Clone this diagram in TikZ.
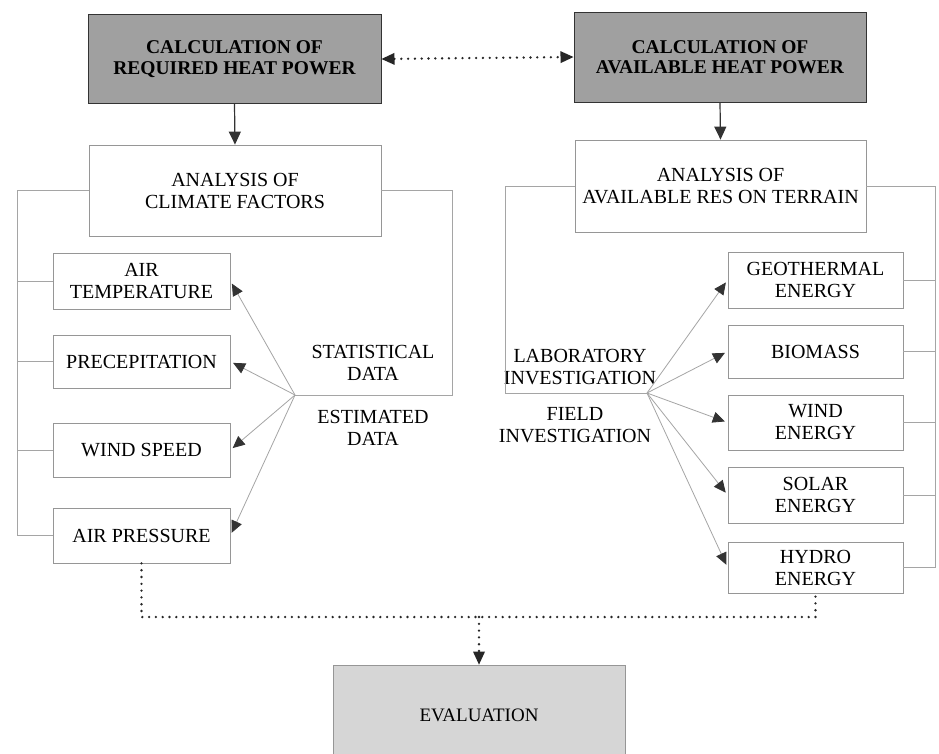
\documentclass[tikz,border=0pt]{standalone}
\usepackage{fontspec}
\setmainfont{Liberation Serif}
\usetikzlibrary{arrows.meta,calc}
\definecolor{calcgray}{RGB}{160,160,160}
\definecolor{evalgray}{RGB}{214,214,214}
\definecolor{boxline}{RGB}{150,150,150}
\definecolor{thinline}{RGB}{165,165,165}
\tikzset{
  calcbox/.style={draw=black!80, line width=1pt, fill=calcgray, align=center,
    font=\fontsize{19.5}{20.5}\selectfont\bfseries, inner sep=0pt},
  anabox/.style={draw=boxline, line width=0.8pt, fill=white, align=center,
    font=\fontsize{20}{22}\selectfont, inner sep=0pt},
  smallbox/.style={draw=boxline, line width=0.8pt, fill=white, align=center,
    font=\fontsize{20}{22}\selectfont, inner sep=0pt},
  evalbox/.style={draw=boxline, line width=0.8pt, fill=evalgray, align=center,
    font=\fontsize{19}{22}\selectfont, inner sep=0pt},
  lbl/.style={align=center, font=\fontsize{20}{22}\selectfont, inner sep=0pt},
  bracket/.style={draw=thinline, line width=0.8pt},
  solidarrow/.style={draw=black!80, line width=1.2pt, -{Triangle[length=13pt,width=12pt]}},
  hubarrow/.style={draw=thinline, line width=0.8pt, -{Triangle[length=12pt,width=11pt,color=black!80]}, shorten >=3pt},
  dotline/.style={draw=black!85, line width=2.6pt, line cap=round, dash pattern=on 0pt off 6.8pt},
  dotarrow/.style={dotline, -{Triangle[length=13pt,width=12pt,line width=0pt]}},
  dotdouble/.style={dotline, {Triangle[length=13pt,width=12pt,line width=0pt]}-{Triangle[length=13pt,width=12pt,line width=0pt]}}
}
\begin{document}
\begin{tikzpicture}[x=1pt,y=-1pt]
\clip (0,0) rectangle (939,753);
\fill[white] (0,0) rectangle (939,753);

% top boxes
\node[calcbox, minimum width=293pt, minimum height=89pt] (calcL) at (234.5,59) {CALCULATION OF\\REQUIRED HEAT POWER};
\node[calcbox, minimum width=292pt, minimum height=90pt] (calcR) at (720,57) {CALCULATION OF\\AVAILABLE HEAT POWER};
\draw[dotdouble] (calcL.east) -- (calcR.west);

% analysis boxes
\node[anabox, minimum width=292pt, minimum height=91pt] (anaL) at (235,190.5) {ANALYSIS OF\\CLIMATE FACTORS};
\node[anabox, minimum width=291pt, minimum height=92pt] (anaR) at (720.5,186) {ANALYSIS OF\\AVAILABLE RES ON TERRAIN};
\draw[solidarrow] (calcL.south) -- (anaL.north);
\draw[solidarrow] (calcR.south) -- (anaR.north);

% left small boxes
\node[smallbox, minimum width=177pt, minimum height=56pt] (airT) at (141.5,281) {AIR\\TEMPERATURE};
\node[smallbox, minimum width=177pt, minimum height=53pt] (prec) at (141.5,361.5) {PRECEPITATION};
\node[smallbox, minimum width=177pt, minimum height=54pt] (wind) at (141.5,450) {WIND SPEED};
\node[smallbox, minimum width=177pt, minimum height=55pt] (pres) at (141.5,535.5) {AIR PRESSURE};

% right energy boxes
\node[smallbox, minimum width=175pt, minimum height=56pt] (geo) at (815.5,280) {GEOTHERMAL\\ENERGY};
\node[smallbox, minimum width=175pt, minimum height=53pt] (bio) at (815.5,351.5) {BIOMASS};
\node[smallbox, minimum width=175pt, minimum height=55pt] (windE) at (815.5,422.5) {WIND\\ENERGY};
\node[smallbox, minimum width=175pt, minimum height=56pt] (solar) at (815.5,495) {SOLAR\\ENERGY};
\node[smallbox, minimum width=175pt, minimum height=51pt] (hydro) at (815.5,567.5) {HYDRO\\ENERGY};

% labels
\node[lbl] (stat) at (373,363) {STATISTICAL\\DATA};
\node[lbl] (est) at (373,428) {ESTIMATED\\DATA};
\node[lbl] (lab) at (580,367) {LABORATORY\\INVESTIGATION};
\node[lbl] (field) at (575,425) {FIELD\\INVESTIGATION};

% hubs and bracket coordinates
\coordinate (hubL) at (295,395);
\coordinate (hubR) at (647,393);
\coordinate (lbx) at (17,0);
\coordinate (rbx) at (452,0);
\coordinate (lrx) at (505,0);
\coordinate (rrx) at (935,0);

% left-side brackets
\draw[bracket] (anaL.west) -- (anaL.west -| lbx) -- (pres.west -| lbx) -- (pres.west);
\draw[bracket] (airT.west -| lbx) -- (airT.west);
\draw[bracket] (prec.west -| lbx) -- (prec.west);
\draw[bracket] (wind.west -| lbx) -- (wind.west);
\draw[bracket] (anaL.east) -- (anaL.east -| rbx) -- (hubL -| rbx) -- (hubL);

% right-side brackets
\draw[bracket] (anaR.west) -- (anaR.west -| lrx) -- (hubR -| lrx) -- (hubR);
\draw[bracket] (anaR.east) -- (anaR.east -| rrx) -- (hydro.east -| rrx) -- (hydro.east);
\draw[bracket] (geo.east) -- (geo.east -| rrx);
\draw[bracket] (bio.east) -- (bio.east -| rrx);
\draw[bracket] (windE.east) -- (windE.east -| rrx);
\draw[bracket] (solar.east) -- (solar.east -| rrx);

% hub arrows
\draw[hubarrow] (hubL) -- (airT.east);
\draw[hubarrow] (hubL) -- (prec.east);
\draw[hubarrow] (hubL) -- (wind.east);
\draw[hubarrow] (hubL) -- (pres.east);
\draw[hubarrow] (hubR) -- (geo.west);
\draw[hubarrow] (hubR) -- (bio.west);
\draw[hubarrow] (hubR) -- (windE.west);
\draw[hubarrow] (hubR) -- (solar.west);
\draw[hubarrow] (hubR) -- (hydro.west);

% evaluation
\node[evalbox, minimum width=292pt, minimum height=100pt] (eval) at (479,715) {EVALUATION};
\coordinate (bl) at (143,617);
\coordinate (bm) at (479,617);
\draw[dotline] (pres.south) -- (pres.south |- bl) -- (hydro.south |- bl) -- (hydro.south);
\draw[dotarrow] (bm) -- (eval.north);
\end{tikzpicture}
\end{document}
